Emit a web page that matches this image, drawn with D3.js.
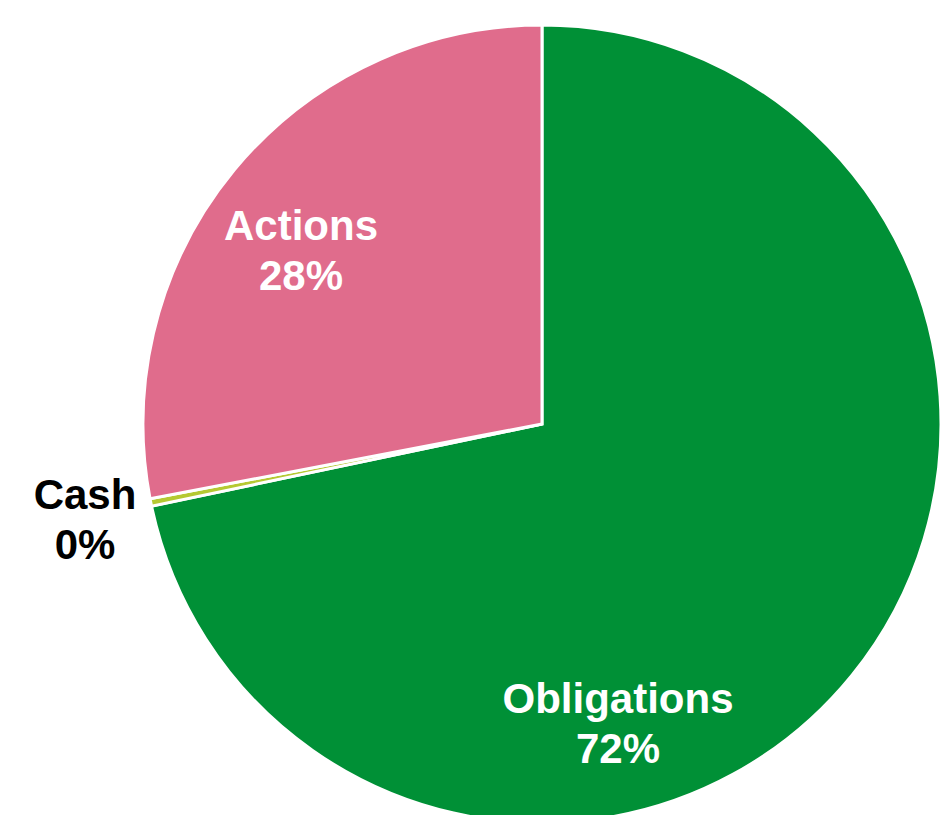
<!DOCTYPE html>
<html>
<head>
<meta charset="utf-8">
<script src="https://cdn.jsdelivr.net/npm/d3@7"></script>
<style>
  html, body { margin: 0; padding: 0; background: #ffffff; }
  svg { display: block; }
</style>
</head>
<body>
<script>
// ---- data ----
const categories = ["Obligations", "Cash", "Actions"];
const values = [71.7, 0.3, 28.0];
const pctLabels = ["72%", "0%", "28%"];

// ---- styling / layout (kept apart from data) ----
const colors = ["#009036", "#b5c932", "#e06c8c"];
const labelColors = ["#ffffff", "#000000", "#ffffff"];
// label anchors relative to pie centre (first baseline)
const labelOffsets = [[76, 289], [-457, 85], [-241, -184]];

const W = 943, H = 815;
const cx = 542, cy = 424, R = 399;

const svg = d3.select("body").append("svg")
  .attr("width", W).attr("height", H);

const g = svg.append("g").attr("transform", `translate(${cx},${cy})`);

const pie = d3.pie().sort(null).value(d => d.v).startAngle(0).endAngle(2 * Math.PI);
const data = categories.map((c, i) => ({ c, v: values[i], p: pctLabels[i], i }));
const arcs = pie(data);
const arc = d3.arc().innerRadius(0).outerRadius(R);

g.selectAll("path.slice").data(arcs).enter().append("path")
  .attr("class", "slice")
  .attr("d", arc)
  .attr("fill", d => colors[d.data.i])
  .attr("stroke", "#ffffff")
  .attr("stroke-width", 3)
  .attr("stroke-linejoin", "miter");

const lbl = g.selectAll("text.lbl").data(arcs).enter().append("text")
  .attr("class", "lbl")
  .attr("text-anchor", "middle")
  .attr("font-family", "'Liberation Sans', Arial, sans-serif")
  .attr("font-weight", "bold")
  .attr("font-size", 42)
  .attr("fill", d => labelColors[d.data.i])
  .attr("transform", d => `translate(${labelOffsets[d.data.i][0]},${labelOffsets[d.data.i][1]})`);

lbl.append("tspan").attr("x", 0).attr("y", 0).text(d => d.data.c);
lbl.append("tspan").attr("x", 0).attr("y", 50).text(d => d.data.p);
</script>
</body>
</html>
